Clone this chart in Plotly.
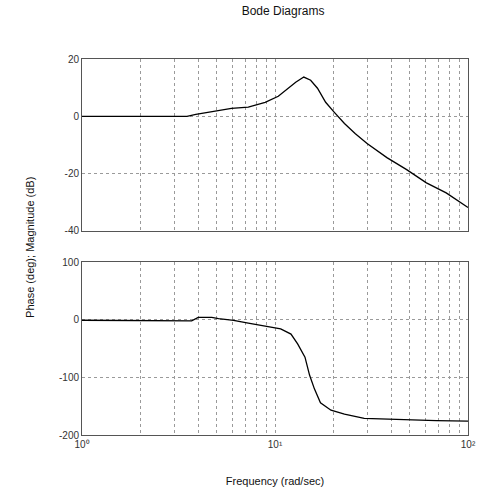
import plotly.graph_objects as go

# Frequency (rad/sec) points
freq_mag = [1.0, 2.0, 3.5, 3.89, 4.70, 5.95, 7.27, 8.89, 10.4, 11.7, 12.8, 14.1, 15.3,
            16.6, 18.3, 20.3, 22.9, 26.0, 30.0, 38.0, 48.1, 60.9, 77.1, 100.0]
mag_db = [0.0, 0.0, 0.0, 0.7, 1.75, 2.8, 3.2, 4.9, 7.0, 9.8, 11.9, 13.7, 12.6,
          9.8, 4.9, 1.4, -2.5, -6.0, -9.5, -14.4, -18.6, -23.2, -26.7, -31.8]

freq_ph = [1.0, 2.0, 3.3, 3.7, 4.0, 4.7, 5.1, 6.1, 7.27, 8.89, 10.7, 12.1, 13.1, 14.3,
           15.1, 16.0, 17.2, 19.5, 22.9, 29.0, 42.7, 68.6, 100.0]
phase_deg = [-1.0, -1.0, -1.0, -2.0, 4.0, 4.0, 2.0, -1.0, -6.0, -11.0, -16.0, -25.0,
             -42.0, -65.0, -96.0, -120.0, -144.0, -157.0, -164.0, -171.0, -173.0, -175.0, -176.0]

mag_ticks = [20, 0, -20, -40]
phase_ticks = [100, 0, -100, -200]
decade_vals = [1, 10, 100]
decade_text = ["10\u2070", "10\u00b9", "10\u00b2"]
minor_vals = [m * d for d in (1, 10) for m in range(2, 10)]

FONT = "Liberation Sans, Arial, sans-serif"

fig = go.Figure()
fig.add_trace(go.Scatter(x=freq_mag, y=mag_db, mode="lines", line=dict(color="black", width=1.3),
                         xaxis="x", yaxis="y", showlegend=False))
fig.add_trace(go.Scatter(x=freq_ph, y=phase_deg, mode="lines", line=dict(color="black", width=1.3),
                         xaxis="x2", yaxis="y2", showlegend=False))

axfont = dict(family=FONT, size=10, color="#333")
gridc = "#9a9a9a"
common_x = dict(type="log", range=[0, 2], showline=True, linecolor="#555", linewidth=1, mirror=True,
                showgrid=True, gridcolor=gridc, griddash="dot", gridwidth=1,
                tickmode="array", tickvals=decade_vals, ticktext=decade_text,
                ticks="", zeroline=False, tickfont=axfont,
                minor=dict(tickmode="array", tickvals=minor_vals, showgrid=True,
                           gridcolor=gridc, griddash="dot", gridwidth=1, ticks=""))
common_y = dict(showline=True, linecolor="#555", linewidth=1, mirror=True,
                showgrid=True, gridcolor=gridc, griddash="dot", gridwidth=1,
                ticks="", zeroline=False, tickfont=axfont)

fig.update_layout(
    width=488, height=498,
    paper_bgcolor="white", plot_bgcolor="white",
    margin=dict(l=82, r=14, t=59, b=63),
    title=dict(text="Bode Diagrams", x=0.58, xanchor="center", y=0.978, yanchor="middle",
               font=dict(family=FONT, size=12, color="#111")),
    xaxis=dict(common_x, domain=[0, 1], anchor="y", showticklabels=False),
    yaxis=dict(common_y, domain=[0.5426, 1], range=[-40, 20], tickvals=mag_ticks,
               ticktext=[str(v) for v in mag_ticks]),
    xaxis2=dict(common_x, domain=[0, 1], anchor="y2",
                title=dict(text="Frequency (rad/sec)", standoff=28,
                           font=dict(family=FONT, size=11, color="#111"))),
    yaxis2=dict(common_y, domain=[0, 0.460], range=[-200, 100], tickvals=phase_ticks,
                ticktext=[str(v) for v in phase_ticks]),
    annotations=[dict(text="Phase (deg); Magnitude (dB)", textangle=-90, xref="paper", yref="paper",
                      x=-0.135, y=0.5, xanchor="center", yanchor="middle", showarrow=False,
                      font=dict(family=FONT, size=11, color="#111"))],
)

fig.write_html("out.html", config={"displayModeBar": False},
               post_script="document.body.style.margin='0';")
